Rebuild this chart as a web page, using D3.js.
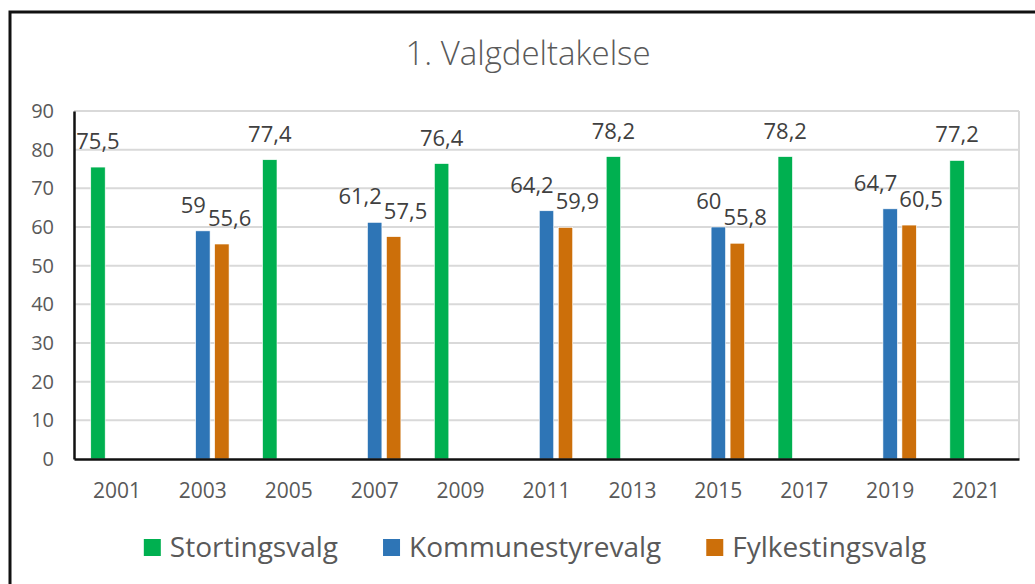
<!DOCTYPE html>
<html>
<head>
<meta charset="utf-8">
<script src="https://cdn.jsdelivr.net/npm/d3@7"></script>
<style>
	html, body { margin: 0; padding: 0; background: #fff; }
	svg { display: block; font-family: "Open Sans", sans-serif; }
</style>
</head>
<body>
<svg id="chart"></svg>
<script>
// Data
var years = ["2001", "2003", "2005", "2007", "2009", "2011", "2013", "2015", "2017", "2019", "2021"];
var seriesNames = ["Stortingsvalg", "Kommunestyrevalg", "Fylkestingsvalg"];
var stortingsvalg    = [75.5, null, 77.4, null, 76.4, null, 78.2, null, 78.2, null, 77.2];
var kommunestyrevalg = [null, 59,   null, 61.2, null, 64.2, null, 60,   null, 64.7, null];
var fylkestingsvalg  = [null, 55.6, null, 57.5, null, 59.9, null, 55.8, null, 60.5, null];
var yTicks = [0, 10, 20, 30, 40, 50, 60, 70, 80, 90];

var colors = ["#00b050", "#2e75b6", "#cc6f0a"];
var seriesValues = [stortingsvalg, kommunestyrevalg, fylkestingsvalg];

var W = 1035, H = 584,
	plot = { left: 74, right: 1019, top: 111, bottom: 459 };

var svg = d3.select("#chart")
	.attr("width", W)
	.attr("height", H);

// outer frame (only top and left visible in the reference)
svg.append("rect")
	.attr("x", 10)
	.attr("y", 12)
	.attr("width", W + 20)
	.attr("height", H + 20)
	.attr("fill", "#fff")
	.attr("stroke", "#111")
	.attr("stroke-width", 3);

svg.append("text")
	.attr("x", 528)
	.attr("y", 65)
	.attr("text-anchor", "middle")
	.attr("font-size", 33)
	.attr("font-weight", 300)
	.attr("fill", "#595959")
	.text("1. Valgdeltakelse");

// Scales
var x0 = d3.scaleBand()
	.domain(years)
	.range([plot.left, plot.right])
	.paddingInner(0.39)
	.paddingOuter(0.195);

var x1 = d3.scaleBand()
	.domain(seriesNames)
	.range([0, x0.bandwidth()])
	.paddingInner(0.24);

var y = d3.scaleLinear()
	.domain([0, 90])
	.range([plot.bottom, plot.top]);

// gridlines
svg.append("g")
	.selectAll("line")
	.data(yTicks.slice(1))
	.join("line")
	.attr("x1", plot.left)
	.attr("x2", plot.right)
	.attr("y1", function (d) { return y(d); })
	.attr("y2", function (d) { return y(d); })
	.attr("stroke", "#d9d9d9")
	.attr("stroke-width", 2);

svg.append("line")
	.attr("x1", plot.right)
	.attr("x2", plot.right)
	.attr("y1", plot.top)
	.attr("y2", plot.bottom)
	.attr("stroke", "#d9d9d9")
	.attr("stroke-width", 2);

// bars
var barsG = svg.append("g");
seriesNames.forEach(function (name, si) {
	var rows = years.map(function (yr, i) { return { year: yr, v: seriesValues[si][i] }; })
		.filter(function (d) { return d.v != null; });

	barsG.append("g")
		.attr("fill", colors[si])
		.selectAll("rect")
		.data(rows)
		.join("rect")
		.attr("x", function (d) { return x0(d.year) + x1(name); })
		.attr("y", function (d) { return y(d.v); })
		.attr("width", x1.bandwidth())
		.attr("height", function (d) { return y(0) - y(d.v); })
		.attr("stroke", "#fff")
		.attr("stroke-width", 0.6);
});

// axes
var yAxis = svg.append("g")
	.attr("transform", "translate(" + plot.left + ",0)")
	.call(d3.axisLeft(y).tickValues(yTicks).tickSize(0).tickPadding(20));

var xAxis = svg.append("g")
	.attr("transform", "translate(0," + plot.bottom + ")")
	.call(d3.axisBottom(x0).tickSize(0).tickPadding(24));

yAxis.select(".domain").attr("stroke", "#111").attr("stroke-width", 2.5);
xAxis.select(".domain").attr("stroke", "#111").attr("stroke-width", 2.5);
yAxis.selectAll("text").attr("font-size", 20).attr("fill", "#595959").attr("font-family", "Open Sans");
xAxis.selectAll("text").attr("font-size", 21).attr("fill", "#595959").attr("font-family", "Open Sans");

// data labels
var fmt = function (v) { return String(v).replace(".", ","); };
var labelsG = svg.append("g")
	.attr("font-size", 22)
	.attr("fill", "#404040")
	.attr("text-anchor", "middle");

var labels = [];
seriesNames.forEach(function (name, si) {
	years.forEach(function (yr, i) {
		var v = seriesValues[si][i];
		if (v == null) return;
		var t = labelsG.append("text")
			.attr("x", x0(yr) + x1(name) + x1.bandwidth() / 2)
			.attr("y", y(v) - 18)
			.text(fmt(v));
		labels.push({ year: yr, series: si, node: t, w: t.node().getComputedTextLength(),
			cx: x0(yr) + x1(name) + x1.bandwidth() / 2 });
	});
});

// push overlapping blue/orange labels apart, like the spreadsheet does
years.forEach(function (yr) {
	var a = labels.filter(function (l) { return l.year == yr && l.series == 1; })[0],
		b = labels.filter(function (l) { return l.year == yr && l.series == 2; })[0];
	if (!a || !b) return;
	var overlap = (a.cx + a.w / 2) - (b.cx - b.w / 2) + 2;
	if (overlap > 0) {
		a.node.attr("x", a.cx - overlap * 0.55);
		b.node.attr("x", b.cx + overlap * 0.45);
	}
});

// legend
var legend = svg.append("g");
var lx = 0;
seriesNames.forEach(function (name, si) {
	var item = legend.append("g").attr("transform", "translate(" + lx + ",0)");
	item.append("rect")
		.attr("x", 0)
		.attr("y", -18)
		.attr("width", 17)
		.attr("height", 17)
		.attr("fill", colors[si]);
	var t = item.append("text")
		.attr("x", 26)
		.attr("y", 0)
		.attr("font-size", 28)
		.attr("fill", "#595959")
		.text(name);
	lx += 26 + t.node().getComputedTextLength() + 45;
});
var legendW = lx - 45;
legend.attr("transform", "translate(" + (535 - legendW / 2) + ",557)");
</script>
</body>
</html>
